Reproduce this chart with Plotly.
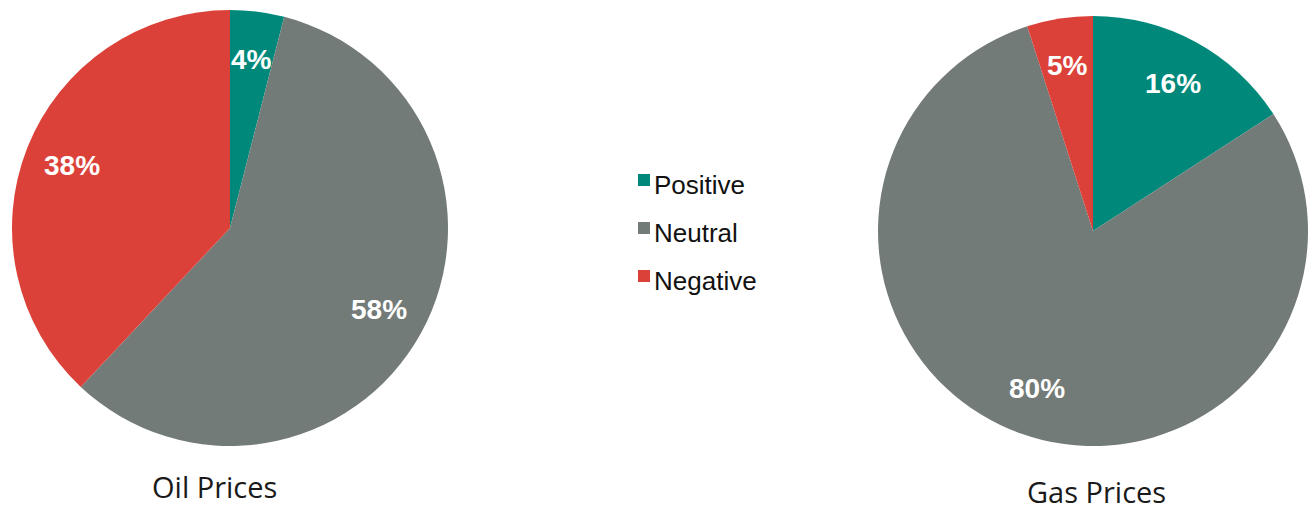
import math
import plotly.graph_objects as go

W, H = 1308, 513

labels = ["Positive", "Neutral", "Negative"]
colors = ["#00897B", "#737B78", "#DB4139"]
oil_values = [4, 58, 38]
gas_values = [16, 80, 5]
titles = ["Oil Prices", "Gas Prices"]

# pie geometry in pixels: (cx, cy, R)
oil_geo = (230, 228, 218)
gas_geo = (1093, 231, 215)


def domain(geo):
    cx, cy, r = geo
    return dict(x=[(cx - r) / W, min((cx + r) / W, 1.0)],
                y=[1 - (cy + r) / H, 1 - (cy - r) / H])


def label_annotations(values, geo, f=0.78):
    cx, cy, r = geo
    total = sum(values)
    anns = []
    cum = 0.0
    for v in values:
        mid = (cum + v / 2) / total * 360.0
        cum += v
        a = math.radians(mid)
        px = cx + f * r * math.sin(a)
        py = cy - f * r * math.cos(a)
        anns.append(dict(x=px / W, y=1 - py / H, xref="paper", yref="paper",
                         text=f"<b>{v}%</b>", showarrow=False,
                         font=dict(family="Liberation Sans", size=28, color="white"),
                         xanchor="center", yanchor="middle"))
    return anns


fig = go.Figure()
for vals, geo in [(oil_values, oil_geo), (gas_values, gas_geo)]:
    fig.add_trace(go.Pie(labels=labels, values=vals, sort=False,
                         direction="clockwise", rotation=0,
                         marker=dict(colors=colors, line=dict(width=0)),
                         textinfo="none", domain=domain(geo),
                         showlegend=False, hoverinfo="label+percent"))

annotations = []
annotations += label_annotations(oil_values, oil_geo)
annotations += label_annotations(gas_values, gas_geo)

# titles
annotations.append(dict(x=214 / W, y=1 - 486 / H, xref="paper", yref="paper",
                        text=titles[0], showarrow=False,
                        font=dict(family="Open Sans", size=29, color="#1a1a1a"),
                        xanchor="center", yanchor="middle"))
annotations.append(dict(x=1096 / W, y=0, xref="paper", yref="paper",
                        text=titles[1], showarrow=False,
                        font=dict(family="Open Sans", size=29, color="#1a1a1a"),
                        xanchor="center", yanchor="bottom"))

# legend (drawn)
shapes = []
leg_x, leg_y0, leg_dy, sq = 638, 174, 48, 12
for i, (lab, col) in enumerate(zip(labels, colors)):
    y = leg_y0 + i * leg_dy
    shapes.append(dict(type="rect", xref="paper", yref="paper",
                       x0=leg_x / W, x1=(leg_x + sq) / W,
                       y0=1 - (y + sq) / H, y1=1 - y / H,
                       fillcolor=col, line=dict(width=0)))
    annotations.append(dict(x=(leg_x + sq + 2) / W, y=1 - (y + 11) / H,
                            xref="paper", yref="paper", text=lab,
                            showarrow=False, xanchor="left", yanchor="middle",
                            font=dict(family="Liberation Sans", size=26, color="#111111")))

fig.update_layout(width=W, height=H, margin=dict(l=0, r=0, t=0, b=0),
                  paper_bgcolor="white", plot_bgcolor="white",
                  annotations=annotations, shapes=shapes)

fig.write_html("out.html")
